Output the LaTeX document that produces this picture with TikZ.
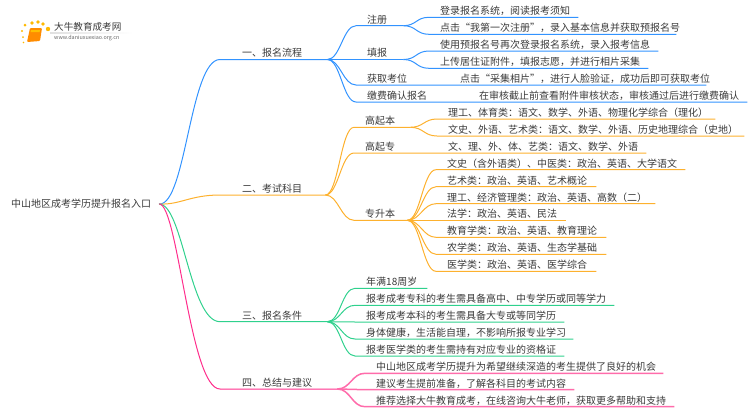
\documentclass[tikz,border=0pt]{standalone}
\usepackage{fontspec}
\setmainfont{Noto Sans CJK SC}
\definecolor{mapblue}{HTML}{3293FF}
\definecolor{maporange}{HTML}{FDB12E}
\definecolor{mapgreen}{HTML}{2FD18D}
\definecolor{mappink}{HTML}{FF2E8C}
\definecolor{mapsoft}{HTML}{FF6CAB}
\definecolor{maptext}{HTML}{3A3A3A}
\begin{document}
\begin{tikzpicture}[x=1pt,y=-1pt,
  item/.style={anchor=south west,text width=#1,inner xsep=0pt,inner ysep=2.4pt,
    text depth=0pt,text height=8pt,align=left,text=maptext,font=\fontsize{10}{12}\selectfont},
  link/.style={line width=1pt,draw=#1},
  spur/.style={link=#1,to path={.. controls +(13,0) and +(-13,0) .. ([xshift=-11pt]\tikztotarget) -- (\tikztotarget)}},
  trunk/.style={link=#1,line cap=round}]
  \useasboundingbox (0,0) rectangle (750,410);
  % logo
  \foreach \x/\y/\r in {22/31/1.2,25/25/1.5,32/23/1.8,38/22/1.9,43/24/1.9,48/29/2.2,23/37/1,23.5/42.5/.8}
    \fill[orange!55!yellow] (\x,\y) circle (\r);
  \fill[rounded corners=1pt,orange!90!yellow] (30,28) -- (42,28) -- (40,41) -- (27,42) -- cycle;
  \fill[orange!50!yellow] (31,30) -- (40,30) -- (39.6,32) -- (30.6,32) -- cycle;
  \fill[left color=black!12,right color=white,draw=none] (50,32.8) rectangle (133,33.5);
  \node (logoname) [anchor=west,inner sep=0pt,text=maptext,font=\fontsize{9.6}{11}\selectfont] at (54,27) {大牛教育成考网};
  \node (logourl) [anchor=west,inner sep=0pt,text=black!60,font=\fontsize{5.4}{6}\selectfont] at (54,38.5) {www.daniuxuexiao.org.cn};
  % root and the four branches
  \node (root) [anchor=west,inner xsep=8pt,inner ysep=0pt,text=maptext,font=\fontsize{10}{12}\selectfont] at (3,204) {中山地区成考学历提升报名入口};
  \node (flow) [item=85pt] at (242,59.5) {一、报名流程};
  \node (exam) [item=83pt] at (242,195) {二、考试科目};
  \node (cond) [item=85pt] at (242,321.7) {三、报名条件};
  \node (sums) [item=95pt] at (242,389) {四、总结与建议};
  \draw[trunk=mapblue] (root.east) .. controls (186,205) and (190,59.5) .. (220,59.5) -- (flow.south east);
  \draw[trunk=maporange] (root.east) .. controls (180,205) and (190,195) .. (220,195) -- (exam.south east);
  \draw[trunk=mapgreen] (root.east) .. controls (183,205) and (190,321.7) .. (220,321.7) -- (cond.south east);
  \draw[trunk=mappink] (root.east) .. controls (178,205) and (190,389) .. (220,389) -- (sums.south east);
  % first branch
  \node (reg) [item=36pt] at (367,25.7) {注册};
  \node (fill) [item=36pt] at (367,59.5) {填报};
  \node (seat) [item=93pt] at (367,85) {获取考位};
  \node (seatnote) [item=246pt] at (460,85) {点击“采集相片”，进行人脸验证，成功后即可获取考位};
  \node (pay) [item=112pt] at (367,102) {缴费确认报名};
  \node (paynote) [item=268pt] at (479,102) {在审核截止前查看附件审核状态，审核通过后进行缴费确认};
  \node (reg1) [item=138pt] at (440,17.3) {登录报名系统，阅读报考须知};
  \node (reg2) [item=236pt] at (440,34.3) {点击“我第一次注册”，录入基本信息并获取预报名号};
  \node (fill1) [item=218pt] at (440,51) {使用预报名号再次登录报名系统，录入报考信息};
  \node (fill2) [item=208pt] at (440,68.3) {上传居住证附件，填报志愿，并进行相片采集};
  \draw[spur=mapblue] (flow.south east) to (reg.south west) (reg.south west) -- (reg.south east);
  \draw[spur=mapblue] (flow.south east) to (fill.south west) (fill.south west) -- (fill.south east);
  \draw[spur=mapblue] (flow.south east) to (seat.south west) (seat.south west) -- (seatnote.south east);
  \draw[spur=mapblue] (flow.south east) to (pay.south west) (pay.south west) -- (paynote.south east);
  \foreach \a/\b in {reg/reg1,reg/reg2,fill/fill1,fill/fill2}
    \draw[spur=mapblue] (\a.south east) to (\b.south west) (\b.south west) -- (\b.south east);
  % second branch
  \node (high) [item=45pt] at (365,127.3) {高起本};
  \node (mid) [item=83pt] at (365,153) {高起专};
  \node (midnote) [item=198pt] at (448,153) {文、理、外、体、艺类：语文、数学、外语};
  \node (up) [item=42pt] at (365,220.3) {专升本};
  \node (high1) [item=267pt] at (448,119) {理工、体育类：语文、数学、外语、物理化学综合（理化）};
  \node (high2) [item=296pt] at (448,136) {文史、外语、艺术类：语文、数学、外语、历史地理综合（史地）};
  \node (up1) [item=238pt] at (447,169.7) {文史（含外语类）、中医类：政治、英语、大学语文};
  \node (up2) [item=149pt] at (447,186.7) {艺术类：政治、英语、艺术概论};
  \node (up3) [item=208pt] at (447,203.7) {理工、经济管理类：政治、英语、高数（二）};
  \node (up4) [item=119pt] at (447,220.3) {法学：政治、英语、民法};
  \node (up5) [item=159pt] at (447,237.3) {教育学类：政治、英语、教育理论};
  \node (up6) [item=159pt] at (447,254.3) {农学类：政治、英语、生态学基础};
  \node (up7) [item=149pt] at (447,271.3) {医学类：政治、英语、医学综合};
  \draw[spur=maporange] (exam.south east) to (high.south west) (high.south west) -- (high.south east);
  \draw[spur=maporange] (exam.south east) to (mid.south west) (mid.south west) -- (midnote.south east);
  \draw[spur=maporange] (exam.south east) to (up.south west) (up.south west) -- (up.south east);
  \foreach \a/\b in {high/high1,high/high2,up/up1,up/up2,up/up3,up/up4,up/up5,up/up6,up/up7}
    \draw[spur=maporange] (\a.south east) to (\b.south west) (\b.south west) -- (\b.south east);
  % third branch
  \node (cond1) [item=61pt] at (366,288.3) {年满18周岁};
  \node (cond2) [item=248pt] at (366,305.3) {报考成考专科的考生需具备高中、中专学历或同等学力};
  \node (cond3) [item=198pt] at (366,322) {报考成考本科的考生需具备大专或等同学历};
  \node (cond4) [item=207pt] at (366,339) {身体健康，生活能自理，不影响所报专业学习};
  \node (cond5) [item=198pt] at (366,356) {报考医学类的考生需持有对应专业的资格证};
  \foreach \b in {cond1,cond2,cond3,cond4,cond5}
    \draw[spur=mapgreen] (cond.south east) to (\b.south west) (\b.south west) -- (\b.south east);
  % fourth branch
  \node (sums1) [item=287pt] at (376,373.3) {中山地区成考学历提升为希望继续深造的考生提供了良好的机会};
  \node (sums2) [item=198pt] at (376,389.7) {建议考生提前准备，了解各科目的考试内容};
  \node (sums3) [item=298pt] at (376,406.7) {推荐选择大牛教育成考，在线咨询大牛老师，获取更多帮助和支持};
  \foreach \b in {sums1,sums2,sums3}
    \draw[spur=mappink,draw=mapsoft,line width=1.5pt] (sums.south east) to (\b.south west) (\b.south west) -- (\b.south east);
\end{tikzpicture}
\end{document}
